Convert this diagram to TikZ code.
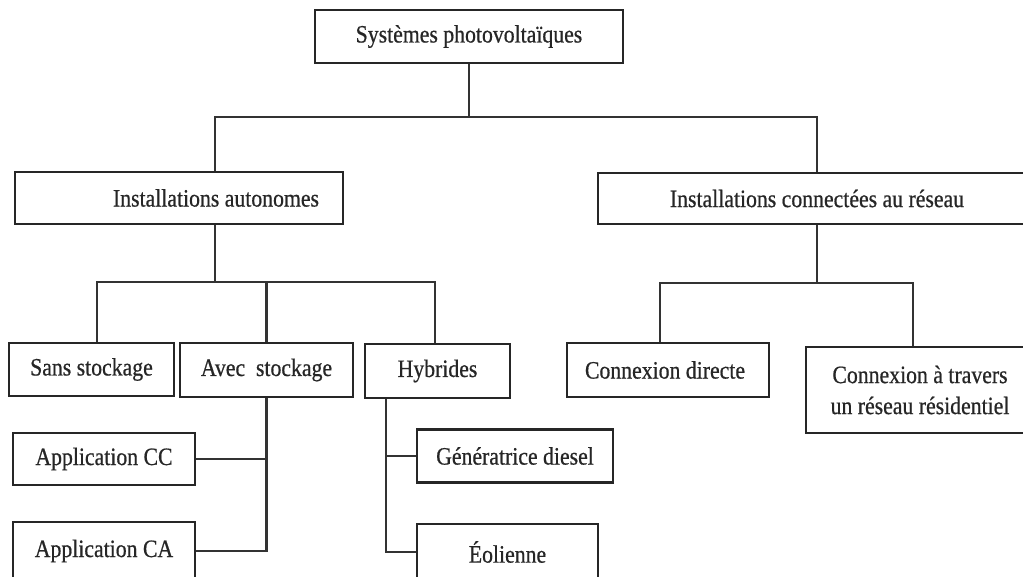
\documentclass[tikz,border=0pt]{standalone}
\usepackage{fontspec}
\setmainfont{Liberation Serif}[FakeStretch=0.87,FakeBold=0.6]
\begin{document}
\begin{tikzpicture}[x=1pt,y=-1pt,
  box/.style={draw=black!85, line width=2.5pt, fill=white, inner sep=0pt, align=center,
    font=\fontsize{25}{31}\selectfont, text=black!85},
  conn/.style={draw=black!80, line width=2.3pt}]
\useasboundingbox (0,0) rectangle (1023,577);
\fill[white] (0,0) rectangle (1023,577);
% nodes
\node[box, minimum width=308pt, minimum height=53pt] (top) at (469,36.5) {Systèmes photovoltaïques};
\node[box, minimum width=328pt, minimum height=52pt] (auto) at (179,198) {\hspace*{74pt}Installations autonomes};
\node[box, minimum width=438pt, minimum height=51pt] (conn) at (817,198.5) {Installations connectées au réseau};
\node[box, minimum width=165pt, minimum height=53pt] (sans) at (91.5,369.5) {Sans stockage};
\node[box, minimum width=173pt, minimum height=54pt] (avec) at (266.5,370) {Avec\ \ stockage};
\node[box, minimum width=145pt, minimum height=54pt] (hyb) at (437.5,371) {Hybrides};
\node[box, minimum width=202pt, minimum height=54pt] (cdir) at (668,370) {\hspace*{-6pt}Connexion directe};
\node[box, minimum width=228pt, minimum height=86pt] (ctrav) at (920,390) {Connexion à travers\\un réseau résidentiel};
\node[box, minimum width=182pt, minimum height=52pt] (appcc) at (104,459) {Application CC};
\node[box, minimum width=182pt, minimum height=58pt] (appca) at (104,551) {Application CA};
\node[box, minimum width=196pt, minimum height=53pt] (gen) at (515,456) {Génératrice diesel};
\node[box, minimum width=181pt, minimum height=56pt] (eol) at (507.5,552) {Éolienne};
% junctions
\coordinate (j1) at (469,117);
\coordinate (j2) at (215,282);
\coordinate (j3) at (815,283);
\coordinate (hb) at ([xshift=-51.5pt]hyb.south);
% connectors
\draw[conn] (top.south) -- (j1);
\draw[conn] ([xshift=36pt]auto.north) |- (j1) -| (conn.north);
\draw[conn] ([xshift=36pt]auto.south) -- (j2);
\draw[conn] ([xshift=5.5pt]sans.north) |- (j2);
\draw[conn] (avec.north) -- (avec.north |- j2);
\draw[conn] ([xshift=-2.5pt]hyb.north) |- (j2);
\draw[conn] (conn.south) -- (conn.south |- j3);
\draw[conn] ([xshift=-8pt]cdir.north) |- (j3);
\draw[conn] ([xshift=-7pt]ctrav.north) |- (j3);
\draw[conn] (avec.south) |- (appca.east);
\draw[conn] (appcc.east) -- (appcc.east -| avec.south);
\draw[conn] (hb) |- (eol.west);
\draw[conn] (gen.west) -- (gen.west -| hb);
\end{tikzpicture}
\end{document}
